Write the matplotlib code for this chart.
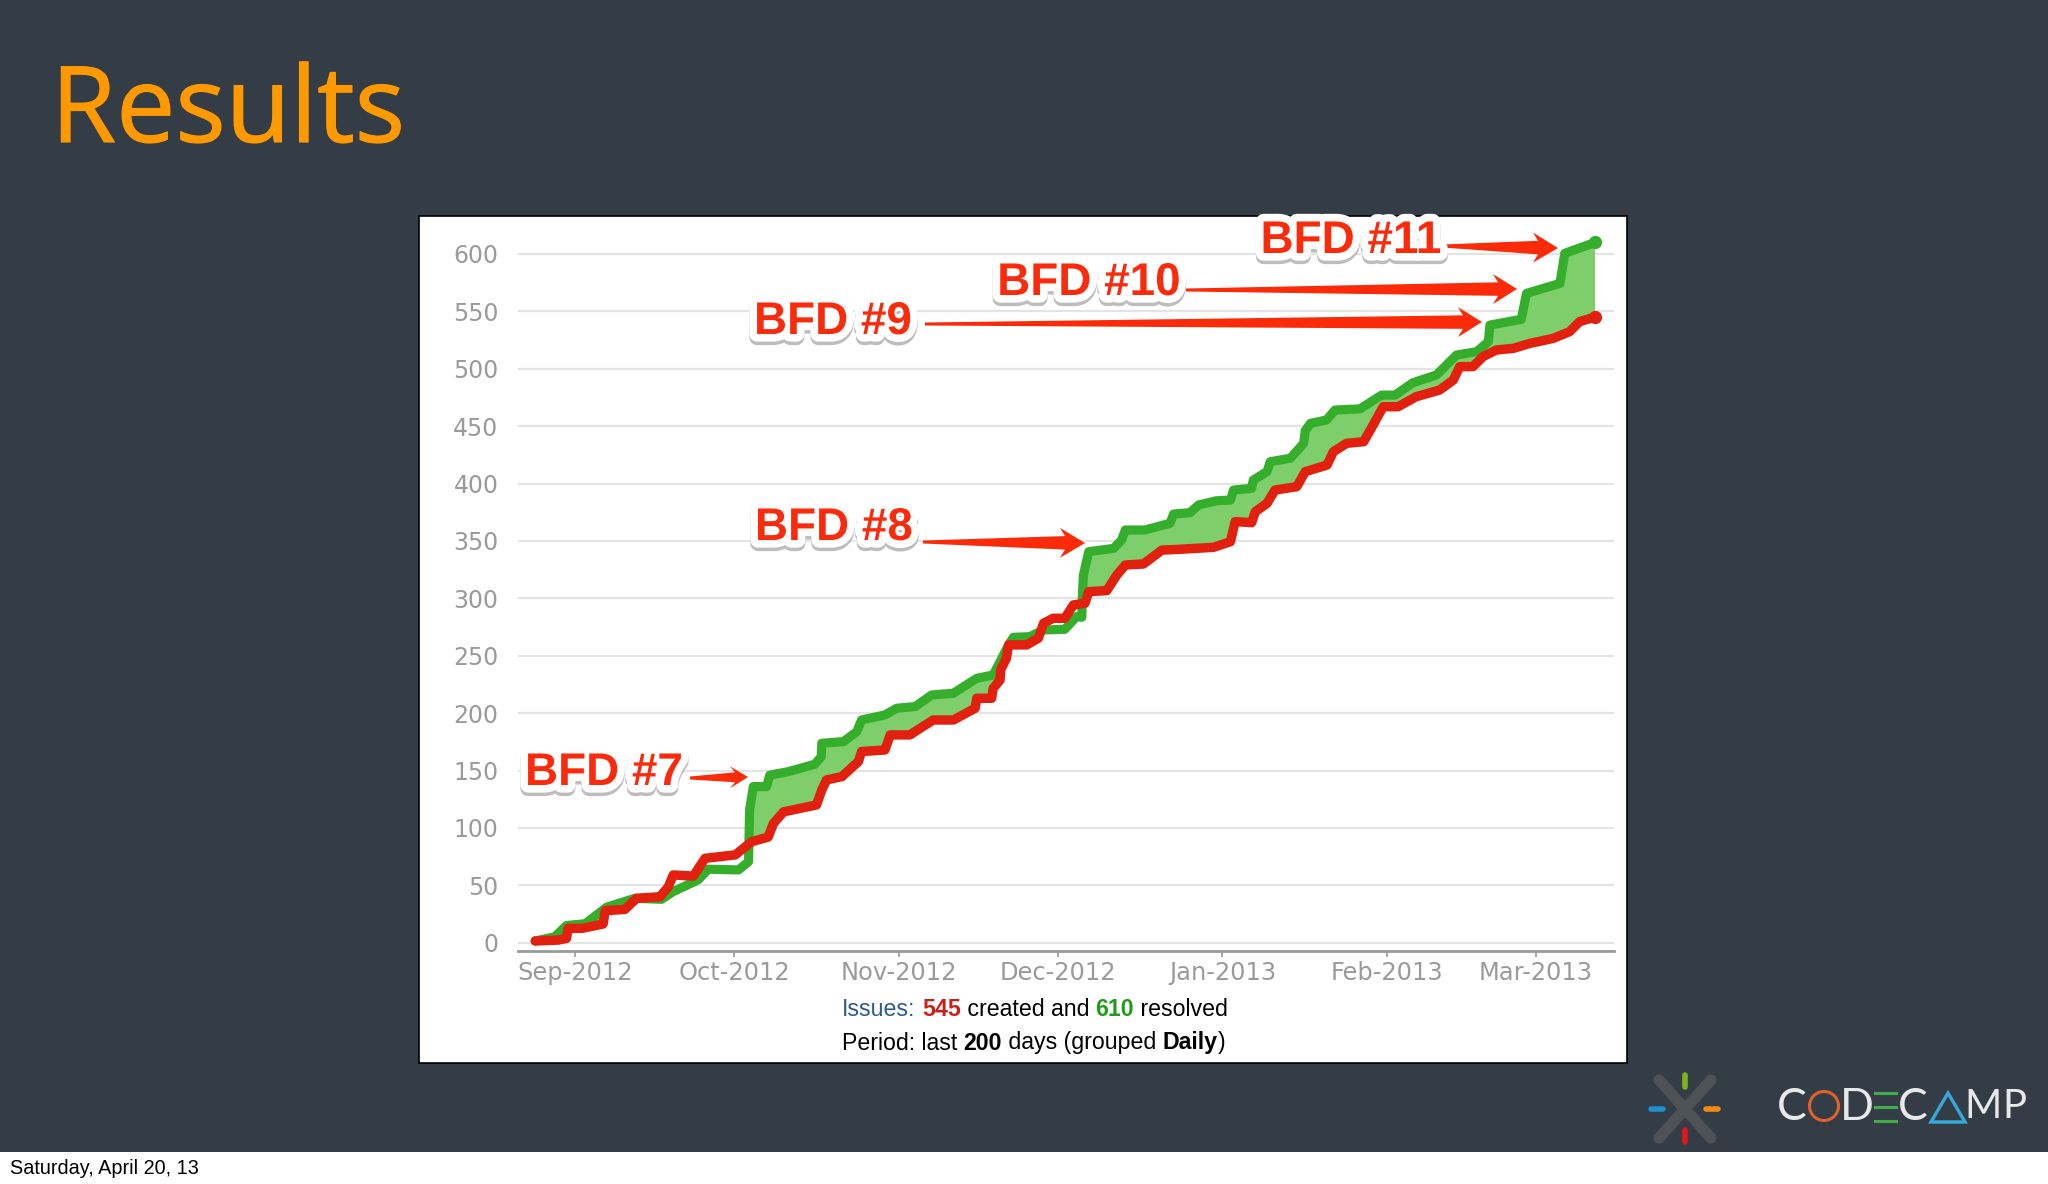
#!/usr/local/bin/python3

import numpy as np
import matplotlib
matplotlib.use("Agg")
import matplotlib.pyplot as plt
import matplotlib.patheffects as pe
from matplotlib.patches import Polygon, Rectangle, Circle

# days counted from 1 Sep 2012
created_days = [-7.5, -3.1, -1.6, -1.3, 1.3, 5.3, 5.7, 9.4, 11.6, 16, 17.6, 18.5, 22.3, 24.5, 30.2,
                33.3, 36.4, 37.4, 39.3, 45.5, 46.5, 47.4, 50.3, 53.4, 54, 58.4, 59.4, 63.1, 67.5, 71.3,
                75.4, 75.7, 78.5, 78.8, 80.1, 80.2, 81.3, 81.7, 85.1, 87.3, 88.3, 90.1, 92.3, 93.9, 96.1,
                96.8, 100.2, 102.1, 103.7, 107.1, 110.6, 114, 120.3, 123.5, 124.4, 127.5, 128.2, 130.4, 131.9,
                136, 137.6, 141.7, 142.9, 145.4, 148.6, 150.4, 152.3, 155.1, 158.5, 162.9, 165.5, 166.7, 169.2,
                171.1, 173.6, 176.8, 179.9, 184.3, 187.4, 189.3, 192.2]
created_vals = [1.5, 2.3, 3.8, 12.5, 12.5, 16.3, 27.9, 29, 38.7, 40, 48.8, 59, 58, 73.5, 76.5,
                88, 92, 104, 114, 120, 133, 141.8, 144.7, 157.8, 166.5, 167.9, 181, 181, 194, 194,
                204.2, 212.9, 212.9, 221.6, 228.9, 237.6, 247.8, 259.4, 259.4, 265.2, 278.3, 282.6, 282.6, 294.2, 295.7,
                305.8, 306.7, 320.3, 329, 329.9, 342, 342.7, 344.4, 349.3, 366.8, 365.9, 375.5, 382.7, 394.3,
                397.2, 410.3, 416.1, 427.7, 435, 436.4, 451, 466.9, 466.9, 475.6, 481.4, 490.1, 501.8, 501.8,
                510.5, 516.3, 517.7, 522, 526.4, 532.2, 541, 545]

resolved_days = [-7.5, -3.8, -1.6, 1.9, 5.3, 6, 11.3, 16.3, 18.5, 23.2, 25.1, 30.8, 32.7, 32.8, 32.9,
                 33.6, 36.1, 36.7, 40.2, 45.2, 46.4, 46.5, 50.6, 53.1, 54, 58.4, 60.6, 64.1, 67.2, 71.3,
                 75.7, 78.8, 80.1, 81.7, 82.6, 85.7, 88.3, 92.3, 94.5, 95.5, 95.6, 95.8, 96.8, 101.5, 103,
                 103.7, 107.4, 112.1, 112.8, 115.9, 117.5, 120.9, 123.5, 124.1, 127.5, 127.8, 130.4, 131, 134.8,
                 137.3, 137.6, 138.6, 141.6, 143.2, 147.9, 152, 154.5, 157.9, 162.3, 166.1, 169.9, 172.1, 172.4,
                 178.3, 179.3, 185.6, 186.5, 190, 192.2]
resolved_vals = [1.5, 5.2, 15, 16.5, 28.5, 31, 38.7, 37.8, 44.5, 54.7, 64, 63.4, 70.6, 92.4, 115.7,
                 136, 136, 146, 149, 155.5, 162, 173.7, 175.2, 183.9, 194, 198.4, 204.2, 205.7, 215.8, 217.3,
                 230.3, 233.2, 244.9, 259.4, 266, 266.6, 272.4, 273, 284, 283.5, 301.4, 320.3, 340.6, 343.5, 350.8,
                 359.5, 359.5, 365.3, 373.4, 374.6, 381.3, 385, 385.6, 394.3, 395.8, 403, 410.3, 419, 422,
                 435, 446, 452.4, 455.3, 464, 465, 477, 477, 487.8, 494.5, 511.9, 514.8, 523.5, 538,
                 543, 565.6, 574.3, 600.5, 606.3, 610]

month_days = [0, 30, 61, 91, 122, 153, 181]
month_labels = ["Sep-2012", "Oct-2012", "Nov-2012", "Dec-2012", "Jan-2013", "Feb-2013", "Mar-2013"]
y_ticks = [0, 50, 100, 150, 200, 250, 300, 350, 400, 450, 500, 550, 600]

# callouts: label, text centre, arrow tail, arrow tip, head base x, head half height
callouts = [
    ("BFD #7", (604, 773), (690, 778), (748, 777), 730, 11),
    ("BFD #8", (834, 528), (923, 542), (1085, 543), 1060, 15),
    ("BFD #9", (833, 322), (925, 324), (1482, 322), 1458, 15),
    ("BFD #10", (1089, 283), (1186, 290), (1517, 289), 1493, 15),
    ("BFD #11", (1351, 241), (1442, 246), (1558, 248), 1533, 15),
]

BG = "#343d46"
W, H = 2048, 1184
fig = plt.figure(figsize=(20.48, 11.84), dpi=100, facecolor="white")

# slide in pixel coords
slide = fig.add_axes([0, 0, 1, 1])
slide.set_xlim(0, W)
slide.set_ylim(H, 0)
slide.axis("off")
slide.add_patch(Rectangle((0, 0), W, 1152, fc=BG, ec="none"))
slide.add_patch(Rectangle((419, 216), 1208, 847, fc="white", ec="black", lw=1.2))

slide.text(51, 142, "Results", color="#ff9900", fontsize=76, family="Open Sans", va="baseline",
           path_effects=[pe.withStroke(linewidth=0.8, foreground="#ff9900")])
slide.text(10, 1168, "Saturday, April 20, 13", color="black", fontsize=14.3, family="Liberation Sans", va="center")

# chart
ax_left, ax_right, ax_top, ax_bot = 518, 1614, 216, 951
ax = fig.add_axes([ax_left / W, 1 - ax_bot / H, (ax_right - ax_left) / W, (ax_bot - ax_top) / H])
ax.patch.set_alpha(0)
ax.set_xlim((518 - 575) / 5.307, (1614 - 575) / 5.307)
ax.set_ylim((942.7 - 951) / 1.148, (942.7 - 216) / 1.148)
for s in ["top", "left", "right"]:
    ax.spines[s].set_visible(False)
ax.spines["bottom"].set_color("#9a9a9a")
ax.spines["bottom"].set_linewidth(2)
ax.yaxis.grid(True, color="#e4e4e4", lw=1.6)
ax.set_axisbelow(True)
ax.set_yticks(y_ticks)
ax.tick_params(axis="y", length=0, pad=14, labelsize=17, labelcolor="#9a9a9a")
ax.set_xticks(month_days)
ax.set_xticklabels(month_labels)
ax.tick_params(axis="x", length=4, width=1.2, color="#9a9a9a", pad=3, labelsize=17.4, labelcolor="#9a9a9a")

all_days = np.union1d(created_days, resolved_days)
c = np.interp(all_days, created_days, created_vals)
r = np.interp(all_days, resolved_days, resolved_vals)
ax.fill_between(all_days, c, r, where=r >= c, color="#7fce6c", lw=0, interpolate=True)
ax.plot(resolved_days, resolved_vals, color="#35ae2c", lw=6.6, solid_joinstyle="round", solid_capstyle="round")
ax.plot(resolved_days[-1], resolved_vals[-1], "o", color="#35ae2c", ms=8.5)
ax.plot(created_days, created_vals, color="#e2200f", lw=6.8, solid_joinstyle="round", solid_capstyle="round")
ax.plot(created_days[-1], created_vals[-1], "o", color="#e2200f", ms=8.5)

# callouts on top of the chart
over = fig.add_axes([0, 0, 1, 1])
over.set_xlim(0, W)
over.set_ylim(H, 0)
over.axis("off")
for label, (tx, ty), tail, tip, base_x, half in callouts:
    over.text(tx, ty, label, color="#fa2a0c", fontsize=33, fontweight="bold", family="Liberation Sans",
              ha="center", va="center",
              path_effects=[pe.Stroke(linewidth=11, foreground="#bdbdbd", offset=(0, -2.5)),
                            pe.Stroke(linewidth=11, foreground="white"), pe.Normal()])
    base_y = tail[1] + (tip[1] - tail[1]) * (base_x - tail[0]) / (tip[0] - tail[0])
    shaft = 0.45 * half
    over.add_patch(Polygon([(tail[0], tail[1] - 1.5), (base_x + 5, base_y - shaft), (base_x, base_y - half),
                            tip, (base_x, base_y + half), (base_x + 5, base_y + shaft), (tail[0], tail[1] + 1.5)],
                           closed=True, fc="#fb2a08", ec="none"))


def text_runs(x, y, runs):
    # one line of mixed colour/weight text, placed run by run
    rend = fig.canvas.get_renderer()
    for s, col, weight in runs:
        t = over.text(x, y, s, color=col, fontweight=weight, fontsize=16.7, family="Liberation Sans", va="center")
        x = over.transData.inverted().transform(t.get_window_extent(rend))[1][0]


text_runs(842, 1009, [("Issues:", "#2d5a8c", "normal"), (" ", "black", "normal"), ("545", "#c8201a", "bold"),
                      (" created and ", "black", "normal"), ("610", "#1f9c18", "bold"),
                      (" resolved", "black", "normal")])
text_runs(842, 1043, [("Period: last ", "black", "normal"), ("200", "black", "bold"),
                      (" days (grouped ", "black", "normal"), ("Daily", "black", "bold"), (")", "black", "normal")])

# logo
for p, q in [((1659, 1080), (1711, 1138)), ((1711, 1080), (1659, 1138))]:
    slide.plot([p[0], q[0]], [p[1], q[1]], color="#4e5256", lw=8, solid_capstyle="round")
for p, q, col in [((1685, 1075), (1685, 1087), "#7ab51d"), ((1685, 1130), (1685, 1142), "#e3141b"),
                  ((1651, 1109), (1663, 1109), "#1f8fd0"), ((1706, 1109), (1718, 1109), "#f08a12")]:
    slide.plot([p[0], q[0]], [p[1], q[1]], color=col, lw=4, solid_capstyle="round")
for s, cx, fs in [("C", 1792, 32), ("D", 1857, 32), ("C", 1913, 32), ("M", 1983, 29), ("P", 2014, 29)]:
    slide.text(cx, 1107, s, color="#e8e8e8", fontsize=fs, family="Lato", ha="center", va="center")
slide.add_patch(Circle((1824, 1106), 14.5, fc="none", ec="#e0622a", lw=2.2))
for yy in [1093, 1107, 1121]:
    slide.plot([1875, 1896], [yy, yy], color="#3fae49", lw=2.2)
slide.add_patch(Polygon([(1931, 1122), (1948, 1093), (1965, 1122)], closed=True, fc="none", ec="#35a9dc", lw=2.4))

fig.savefig("out.png", dpi=100, facecolor="white")
